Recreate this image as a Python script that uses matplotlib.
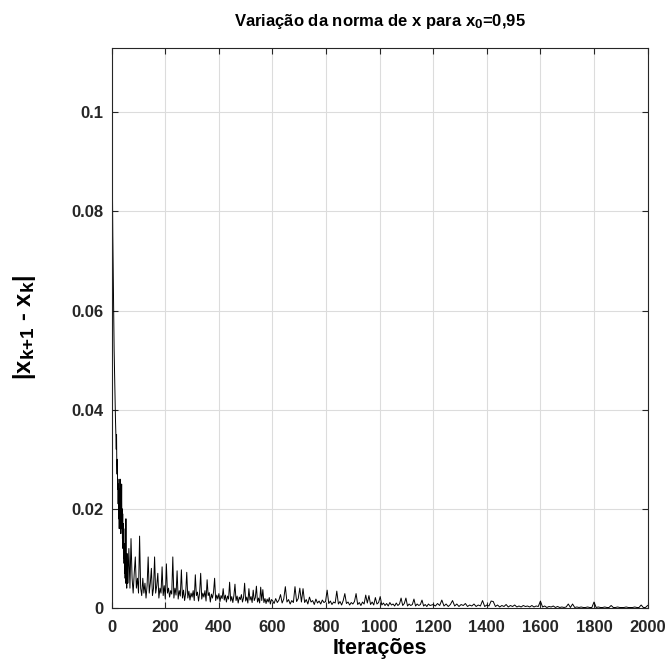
import numpy as np
import matplotlib
matplotlib.use("Agg")
import matplotlib.pyplot as plt
import matplotlib._mathtext as mt

# MATLAB-style subscripts are shrunk less than TeX ones
mt.SHRINK_FACTOR = 0.8

# |x_{k+1} - x_k|, in four stretches of iterations
iters_a = np.arange(0, 60)
vals_a = [0.1125, 0.096, 0.088, 0.081, 0.075, 0.070, 0.065, 0.060, 0.056, 0.052,
          0.049, 0.046, 0.043, 0.041, 0.038, 0.036, 0.034, 0.032, 0.035, 0.029,
          0.027, 0.030, 0.024, 0.026, 0.021, 0.025, 0.018, 0.023, 0.016, 0.024,
          0.019, 0.026, 0.017, 0.022, 0.015, 0.021, 0.018, 0.025, 0.016, 0.020,
          0.014, 0.019, 0.012, 0.017, 0.010, 0.016, 0.009, 0.013, 0.007, 0.012,
          0.006, 0.010, 0.005, 0.018, 0.006, 0.009, 0.004, 0.011, 0.005, 0.008]

iters_b = np.arange(60, 600, 4)
vals_b = [0.005, 0.012, 0.004, 0.014, 0.006, 0.003, 0.007, 0.0103, 0.004, 0.006,
          0.003, 0.0145, 0.004, 0.0025, 0.006, 0.003, 0.005, 0.002, 0.0045, 0.0103,
          0.003, 0.005, 0.008, 0.0025, 0.004, 0.0103, 0.003, 0.0045, 0.007, 0.002,
          0.004, 0.003, 0.0083, 0.0025, 0.0045, 0.0018, 0.0089, 0.003, 0.004, 0.0022,
          0.0035, 0.0028, 0.0103, 0.002, 0.004, 0.0026, 0.0075, 0.0018, 0.0035, 0.0024,
          0.0077, 0.002, 0.0036, 0.0015, 0.003, 0.0072, 0.002, 0.0034, 0.0016, 0.003,
          0.0022, 0.0035, 0.0015, 0.0067, 0.0025, 0.0032, 0.0014, 0.003, 0.007, 0.0018,
          0.003, 0.0022, 0.0035, 0.0014, 0.0057, 0.0025, 0.0031, 0.0012, 0.0028, 0.002,
          0.0032, 0.006, 0.0015, 0.0026, 0.0018, 0.0029, 0.0013, 0.0025, 0.0019, 0.0039,
          0.0016, 0.0026, 0.0012, 0.0024, 0.0018, 0.0052, 0.0014, 0.0023, 0.0011, 0.0025,
          0.0048, 0.0015, 0.0024, 0.001, 0.0022, 0.0017, 0.0027, 0.0012, 0.0021, 0.005,
          0.0014, 0.0022, 0.001, 0.0039, 0.0016, 0.0023, 0.0011, 0.0036, 0.0015, 0.0021,
          0.0044, 0.0012, 0.002, 0.001, 0.0042, 0.0015, 0.0037, 0.0011, 0.0019, 0.0009,
          0.0018, 0.0012, 0.0021, 0.0008, 0.0017]

iters_c = np.arange(600, 1200, 6)
vals_c = [0.0015, 0.0009, 0.0019, 0.0011, 0.0016, 0.0027, 0.0010, 0.0018, 0.0043, 0.0012,
          0.0017, 0.0008, 0.0015, 0.0011, 0.0043, 0.0013, 0.0019, 0.0040, 0.0012, 0.0039,
          0.0011, 0.0017, 0.0008, 0.0022, 0.0012, 0.0015, 0.0007, 0.0018, 0.0010, 0.0014,
          0.0008, 0.0016, 0.0011, 0.0013, 0.0036, 0.0009, 0.0014, 0.0007, 0.0012, 0.0010,
          0.0034, 0.0008, 0.0013, 0.0006, 0.0015, 0.0029, 0.0009, 0.0012, 0.0006, 0.0011,
          0.0008, 0.0013, 0.0029, 0.0007, 0.0011, 0.0005, 0.0012, 0.0008, 0.0026, 0.0010,
          0.0025, 0.0007, 0.0012, 0.0006, 0.0021, 0.0008, 0.0011, 0.0023, 0.0006, 0.0010,
          0.0005, 0.0009, 0.0004, 0.0011, 0.0006, 0.0008, 0.0004, 0.0010, 0.0005, 0.0008,
          0.0020, 0.0005, 0.0009, 0.0020, 0.0004, 0.0008, 0.0005, 0.0007, 0.0018, 0.0004,
          0.0008, 0.0005, 0.0007, 0.0016, 0.0004, 0.0007, 0.0003, 0.0008, 0.0005, 0.0006]

iters_d = np.arange(1200, 2001, 8)
vals_d = [0.0007, 0.0004, 0.0009, 0.0005, 0.0016, 0.0004, 0.0008, 0.0003, 0.0007, 0.0015,
          0.0004, 0.0008, 0.0003, 0.0007, 0.0005, 0.0009, 0.0003, 0.0006, 0.0004, 0.0008,
          0.0003, 0.0006, 0.0004, 0.0015, 0.0003, 0.0006, 0.0004, 0.0014, 0.0013, 0.0003,
          0.0006, 0.0002, 0.0005, 0.0003, 0.0007, 0.0002, 0.0005, 0.0003, 0.0006, 0.0002,
          0.0004, 0.0002, 0.0005, 0.0003, 0.0004, 0.0002, 0.0005, 0.0002, 0.0004, 0.0003,
          0.0014, 0.0002, 0.0004, 0.0001, 0.0003, 0.0002, 0.0004, 0.0001, 0.0003, 0.0001,
          0.0002, 0.0001, 0.0002, 0.0008, 0.0001, 0.0008, 0.0001, 0.0002, 0.0001, 0.0002,
          0.0001, 0.0001, 0.0002, 0.0001, 0.0001, 0.0012, 0.0001, 0.0002, 0.0001, 0.0001,
          0.0002, 0.0001, 0.0001, 0.0005, 0.0001, 0.0001, 0.0002, 0.0001, 0.0001, 0.0001,
          0.0002, 0.0001, 0.0001, 0.0001, 0.0002, 0.0001, 0.0001, 0.0006, 0.0001, 0.0001,
          0.0005]

iters = np.concatenate([iters_a, iters_b, iters_c, iters_d])
vals = np.concatenate([vals_a, vals_b, vals_c, vals_d])

plt.rcParams['font.family'] = ['Liberation Sans', 'DejaVu Sans']
plt.rcParams['font.weight'] = 'bold'
plt.rcParams['mathtext.fontset'] = 'custom'
plt.rcParams['mathtext.rm'] = 'Liberation Sans:bold'
plt.rcParams['mathtext.it'] = 'Liberation Sans:bold'
plt.rcParams['mathtext.bf'] = 'Liberation Sans:bold'
plt.rcParams['mathtext.default'] = 'bf'

fig = plt.figure(figsize=(6.69, 6.62), dpi=100)
ax = fig.add_axes([0.167, 0.0816, 0.801, 0.846])

ax.plot(iters, vals, color='black', linewidth=0.7)

ax.set_xlim(0, 2000)
ax.set_ylim(0, 0.113)
ax.set_xticks(np.arange(0, 2001, 200))
ax.set_yticks([0, 0.02, 0.04, 0.06, 0.08, 0.1])
ax.set_yticklabels(['0', '0.02', '0.04', '0.06', '0.08', '0.1'])

ax.grid(True, color='#dcdcdc', linewidth=0.8)
ax.set_axisbelow(True)
ax.tick_params(direction='in', top=True, right=True, length=4, width=0.8,
               labelsize=12, colors='#262626', pad=6)
ax.tick_params(axis='x', pad=9)
for s in ax.spines.values():
    s.set_color('#262626')
    s.set_linewidth(0.8)

ax.set_title('Variação da norma de x para x$_0$=0,95', fontsize=12,
             fontweight='bold', pad=16)
ax.set_xlabel('Iterações', fontsize=15.5, fontweight='bold', labelpad=2)
ax.set_ylabel('|x$_{k{+}1}$ - x$_k$|', fontsize=17, fontweight='bold')
ax.yaxis.set_label_coords(-0.138, 0.5)

fig.savefig('out.png', dpi=100)
